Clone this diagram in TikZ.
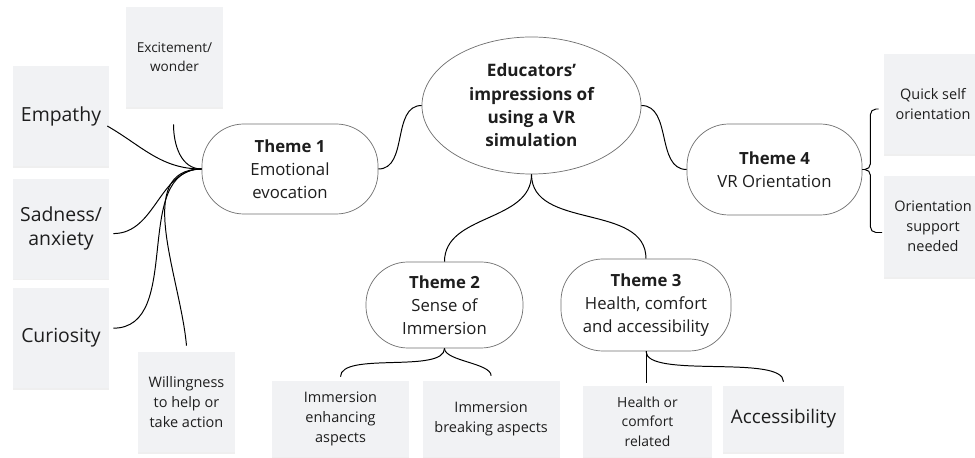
\documentclass[tikz,border=0pt]{standalone}
\usepackage{fontspec}
\setmainfont{Open Sans}
\usetikzlibrary{shapes.geometric,positioning,calc,shadows}

\definecolor{notefill}{HTML}{F1F2F4}
\definecolor{themeline}{HTML}{6F6F6F}
\definecolor{inktext}{HTML}{1E1E1E}

\begin{document}
\begin{tikzpicture}[
  x=0.025cm, y=-0.025cm,
  font=\fontsize{11.9}{16.4}\selectfont,
  text=inktext,
  hub/.style={ellipse, draw=themeline, line width=0.5pt, fill=white, align=center,
              inner sep=0pt, minimum width=5.475cm, minimum height=3.425cm},
  theme/.style={rectangle, rounded corners=1.05cm, draw=themeline, line width=0.5pt,
                fill=white, align=center, inner sep=2pt},
  note/.style={rectangle, fill=notefill, align=center, inner sep=3pt,
               drop shadow={opacity=0.12, shadow xshift=0pt, shadow yshift=-1.2pt}},
  bignote/.style={note, minimum width=2.4cm, minimum height=2.5cm,
                  font=\fontsize{13.8}{17}\selectfont},
  smallnote/.style={note, font=\fontsize{10.3}{14.2}\selectfont},
  link/.style={draw=black, line width=0.7pt}
]

\path[use as bounding box, fill=white] (0,0) rectangle (975,458);

\node[hub, font=\bfseries\fontsize{12.2}{16.6}\selectfont] (root) at (531.5,105.5)
  {Educators’\\impressions of\\using a VR\\simulation};

\node[theme, minimum width=4.4cm, minimum height=2.25cm] (t1) at (290,169)
  {\textbf{Theme 1}\\Emotional\\evocation};
\node[theme, minimum width=4.375cm, minimum height=2.275cm] (t4) at (774.5,169.5)
  {\textbf{Theme 4}\\VR Orientation};
\node[theme, minimum width=3.925cm, minimum height=2.15cm] (t2) at (444.5,305)
  {\textbf{Theme 2}\\Sense of\\Immersion};
\node[theme, minimum width=4.25cm, minimum height=2.3cm] (t3) at (646,305)
  {\textbf{Theme 3}\\Health, comfort\\and accessibility};

\node[bignote] (emp) at (61,116) {Empathy};
\node[bignote, below=0.3cm of emp] (sad) {Sadness/\\anxiety};
\node[bignote, below=0.225cm of sad] (cur) {Curiosity};
\node[smallnote, font=\fontsize{9.7}{13.4}\selectfont, minimum width=2.425cm,
      minimum height=2.5cm] (exc) at (174.5,57) {Excitement/\\wonder};
\node[smallnote, minimum width=2.425cm, minimum height=2.5cm] (wil) at (186.5,402)
  {Willingness\\to help or\\take action};

\node[smallnote, minimum width=3.425cm, minimum height=1.9cm] (ienh) at (340.5,419)
  {Immersion\\enhancing\\aspects};
\node[smallnote, minimum width=3.425cm, minimum height=1.9cm, right=0.325cm of ienh] (ibrk)
  {Immersion\\breaking aspects};

\node[smallnote, font=\fontsize{9.9}{14}\selectfont, minimum width=3.225cm,
      minimum height=1.775cm] (hcr) at (647.5,421.5) {Health or\\comfort\\related};
\node[bignote, font=\fontsize{13.4}{17}\selectfont, minimum width=3.025cm,
      minimum height=1.65cm] (acc) at (783.5,419) {Accessibility};

\node[smallnote, minimum width=2.45cm, minimum height=2.5cm] (qso) at (933,104)
  {Quick self\\orientation};
\node[smallnote, minimum width=2.425cm, minimum height=2.525cm] (osn) at (933,226.5)
  {Orientation\\support\\needed};

\draw[link] (root.west) to[out=180,in=0] (t1.east);
\draw[link] (root.east) to[out=0,in=180] (t4.west);
\draw[link] (root.south) to[out=-90,in=90] (t2.north);
\draw[link] (root.south) to[out=-90,in=90] (t3.north);

\draw[link] ($(emp.east)+(-2,10)$) to[out=-30,in=180] (t1.west);
\draw[link] ($(exc.south)+(-1,17)$) to[out=-90,in=180] (t1.west);
\draw[link] ($(sad.east)+(4,5)$) to[out=0,in=180] (t1.west);
\draw[link] ($(cur.east)+(4,-10)$) to[out=0,in=180] (t1.west);
\draw[link] ($(wil.north)+(0,-6)$) to[out=95,in=180] (t1.west);

\draw[link, rounded corners=4pt] (t4.east) -- ++(8,0) |- ($(qso.west)+(-5,5)$);
\draw[link, rounded corners=4pt] (t4.east) -- ++(8,0) |- ($(osn.west)+(-2,6)$);

\draw[link] (t2.south) to[out=-90,in=90,looseness=0.6] ($(ienh.north)+(0,-4)$);
\draw[link] (t2.south) to[out=-90,in=90,looseness=0.6] ($(ibrk.north)+(0,-5)$);

\draw[link] (t3.south) -- ($(t3.south|-hcr.north)+(0,-3)$);
\draw[link] (t3.south) to[out=-90,in=90,looseness=0.5] ($(acc.north)+(0,-4)$);

\end{tikzpicture}
\end{document}
